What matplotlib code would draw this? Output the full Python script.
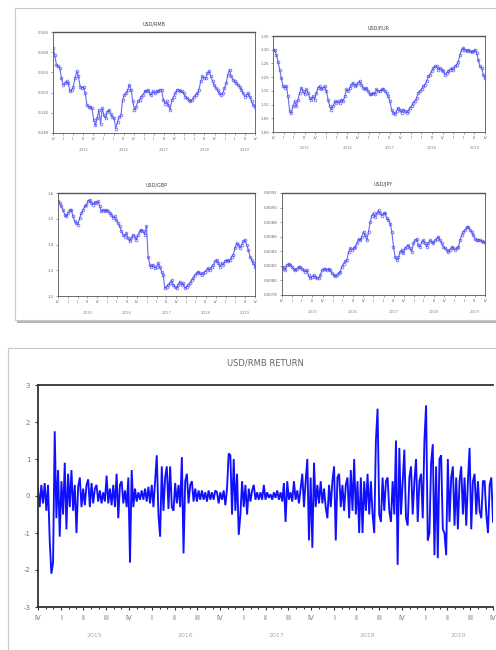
import numpy as np
import pandas as pd
import matplotlib
matplotlib.use('Agg')
import matplotlib.pyplot as plt
import matplotlib.dates as mdates
from matplotlib.patches import Rectangle
from matplotlib.transforms import blended_transform_factory

# ---------------- data ----------------
titles = ['USD/RMB', 'USD/EUR', 'USD/GBP', 'USD/JPY']
big_title = 'USD/RMB RETURN'

rmb = [0.1611, 0.1594, 0.1569, 0.1565, 0.1561, 0.1536, 0.1519, 0.1523, 0.1528, 0.1523,
       0.1503, 0.1507, 0.1515, 0.1536, 0.1553, 0.1540, 0.1515, 0.1511, 0.1515, 0.1498,
       0.1469, 0.1465, 0.1465, 0.1461, 0.1432, 0.1419, 0.1436, 0.1457, 0.1423, 0.1461,
       0.1444, 0.1436, 0.1453, 0.1457, 0.1448, 0.1440, 0.1436, 0.1411, 0.1428, 0.1440,
       0.1444, 0.1482, 0.1494, 0.1498, 0.1507, 0.1519, 0.1507, 0.1478, 0.1457, 0.1465,
       0.1478, 0.1482, 0.1490, 0.1494, 0.1503, 0.1503, 0.1507, 0.1498, 0.1494, 0.1503,
       0.1498, 0.1503, 0.1503, 0.1507, 0.1507, 0.1482, 0.1473, 0.1478, 0.1469, 0.1457,
       0.1482, 0.1490, 0.1498, 0.1507, 0.1507, 0.1503, 0.1503, 0.1498, 0.1490, 0.1486,
       0.1482, 0.1478, 0.1482, 0.1490, 0.1494, 0.1498, 0.1507, 0.1528, 0.1540, 0.1536,
       0.1536, 0.1548, 0.1553, 0.1540, 0.1528, 0.1519, 0.1511, 0.1507, 0.1498, 0.1494,
       0.1498, 0.1511, 0.1523, 0.1544, 0.1557, 0.1540, 0.1532, 0.1528, 0.1523, 0.1519,
       0.1515, 0.1507, 0.1498, 0.1490, 0.1494, 0.1498, 0.1490, 0.1478, 0.1469, 0.1465]

eur = [1.300, 1.300, 1.281, 1.257, 1.227, 1.197, 1.167, 1.161, 1.167, 1.130,
       1.076, 1.070, 1.094, 1.112, 1.094, 1.118, 1.143, 1.161, 1.149, 1.137,
       1.155, 1.143, 1.124, 1.118, 1.130, 1.118, 1.143, 1.161, 1.167, 1.155,
       1.161, 1.167, 1.149, 1.118, 1.094, 1.082, 1.094, 1.112, 1.106, 1.112,
       1.106, 1.118, 1.112, 1.130, 1.155, 1.149, 1.161, 1.173, 1.179, 1.167,
       1.173, 1.179, 1.185, 1.173, 1.161, 1.155, 1.161, 1.149, 1.137, 1.137,
       1.143, 1.137, 1.155, 1.149, 1.149, 1.155, 1.155, 1.149, 1.143, 1.130,
       1.112, 1.082, 1.070, 1.064, 1.076, 1.088, 1.082, 1.070, 1.082, 1.076,
       1.070, 1.076, 1.088, 1.094, 1.106, 1.112, 1.124, 1.143, 1.149, 1.155,
       1.167, 1.173, 1.185, 1.203, 1.209, 1.221, 1.233, 1.239, 1.239, 1.227,
       1.233, 1.227, 1.221, 1.209, 1.215, 1.221, 1.227, 1.233, 1.227, 1.239,
       1.245, 1.257, 1.281, 1.300, 1.306, 1.300, 1.294, 1.300, 1.294, 1.290,
       1.294, 1.300, 1.288, 1.263, 1.239, 1.233, 1.209, 1.197]

gbp = [1.568, 1.561, 1.548, 1.535, 1.516, 1.509, 1.522, 1.535, 1.535, 1.509,
       1.490, 1.483, 1.477, 1.503, 1.522, 1.535, 1.548, 1.555, 1.568, 1.574,
       1.561, 1.555, 1.564, 1.561, 1.568, 1.548, 1.529, 1.535, 1.529, 1.535,
       1.529, 1.522, 1.516, 1.503, 1.509, 1.496, 1.483, 1.470, 1.451, 1.438,
       1.431, 1.444, 1.425, 1.412, 1.425, 1.438, 1.431, 1.418, 1.438, 1.451,
       1.457, 1.451, 1.438, 1.470, 1.353, 1.321, 1.314, 1.321, 1.308, 1.314,
       1.327, 1.314, 1.295, 1.282, 1.230, 1.236, 1.243, 1.249, 1.262, 1.243,
       1.236, 1.230, 1.243, 1.256, 1.243, 1.249, 1.230, 1.236, 1.243, 1.249,
       1.262, 1.269, 1.282, 1.288, 1.295, 1.288, 1.282, 1.288, 1.295, 1.301,
       1.308, 1.301, 1.314, 1.321, 1.334, 1.340, 1.327, 1.314, 1.327, 1.321,
       1.334, 1.340, 1.334, 1.340, 1.353, 1.360, 1.386, 1.405, 1.399, 1.386,
       1.399, 1.412, 1.418, 1.399, 1.379, 1.353, 1.340, 1.327, 1.314]

jpy = [0.00816, 0.00819, 0.00814, 0.00821, 0.00823, 0.00821, 0.00819, 0.00816, 0.00814, 0.00816,
       0.00819, 0.00818, 0.00816, 0.00814, 0.00812, 0.00814, 0.00807, 0.00803, 0.00805, 0.00807,
       0.00805, 0.00803, 0.00803, 0.00807, 0.00814, 0.00816, 0.00816, 0.00814, 0.00816, 0.00814,
       0.00810, 0.00807, 0.00806, 0.00807, 0.00810, 0.00812, 0.00819, 0.00823, 0.00826, 0.00828,
       0.00839, 0.00844, 0.00842, 0.00844, 0.00846, 0.00851, 0.00857, 0.00855, 0.00860, 0.00867,
       0.00862, 0.00855, 0.00867, 0.00880, 0.00889, 0.00892, 0.00887, 0.00892, 0.00896, 0.00892,
       0.00889, 0.00892, 0.00892, 0.00885, 0.00883, 0.00878, 0.00867, 0.00846, 0.00832, 0.00828,
       0.00832, 0.00839, 0.00842, 0.00837, 0.00844, 0.00846, 0.00848, 0.00844, 0.00839, 0.00851,
       0.00855, 0.00857, 0.00848, 0.00846, 0.00853, 0.00855, 0.00851, 0.00846, 0.00851, 0.00855,
       0.00853, 0.00851, 0.00855, 0.00857, 0.00860, 0.00855, 0.00851, 0.00846, 0.00844, 0.00842,
       0.00839, 0.00842, 0.00846, 0.00844, 0.00842, 0.00844, 0.00846, 0.00855, 0.00862, 0.00867,
       0.00869, 0.00873, 0.00873, 0.00869, 0.00867, 0.00862, 0.00857, 0.00855, 0.00856, 0.00855,
       0.00854, 0.00853, 0.00853]

ret = [0.2, -0.3, 0.3, -0.2, 0.35, -0.4, 0.3, -1.2, -2.1, -1.8, 1.75, -0.6, 0.7, -1.1, 0.4, -0.5, 0.9, -0.9, 0.6, -0.3,
       0.7, -0.4, 0.3, -1.0, 0.25, 0.5, -0.3, 0.2, -0.25, 0.3, 0.45, -0.3, 0.35, -0.2, 0.2, 0.3, -0.15, 0.15, -0.2, 0.1,
       -0.15, 0.55, -0.2, 0.2, -0.25, 0.3, -0.3, 0.6, -0.6, 0.3, 0.4, -0.2, 0.15, -0.3, 0.5, -1.8, 0.7, -0.3, 0.2, -0.15,
       0.1, -0.1, 0.15, -0.1, 0.2, -0.15, 0.25, -0.2, 0.3, -0.3, 0.4, 1.1, -0.5, -1.1, 0.8, -0.4, 0.5, 0.8, -0.35, 0.8,
       -0.3, -0.4, 0.35, -0.2, 0.3, -0.3, 1.05, -1.55, 0.4, 0.6, -0.2, 0.3, 0.4, -0.15, 0.2, -0.15, 0.15, -0.1, 0.15, -0.1,
       0.1, -0.15, 0.15, -0.1, 0.1, -0.1, 0.15, 0.1, -0.2, 0.1, -0.1, 0.15, -0.25, 0.2, 1.15, 1.1, -0.5, 1.0, -0.4, 0.6,
       -1.05, -0.5, 0.4, -0.3, 0.3, -0.5, 0.2, -0.15, 0.15, 0.3, -0.1, 0.1, -0.1, 0.1, -0.1, 0.3, -0.1, 0.1, -0.05, 0.05,
       -0.1, 0.1, -0.05, 0.15, -0.1, 0.1, -0.15, 0.35, -0.7, 0.4, -0.1, 0.1, -0.15, 0.4, -0.1, 0.15, -0.2, 0.2, 0.6, -0.3,
       0.4, 1.0, -1.2, 0.5, -1.4, 0.9, -0.3, 0.3, -0.2, 0.4, -0.2, 0.2, -0.3, -0.6, 0.3, -0.3, 0.4, 0.8, -1.2, 0.5,
       0.6, -0.3, 0.3, -0.4, 0.3, 0.5, -0.6, 0.7, -0.4, 1.0, -0.5, 0.4, -1.0, 0.5, -1.0, 0.4, -0.4, 0.6, -0.5, 0.4,
       -0.5, -1.0, 1.5, 2.36, -0.5, -0.7, 0.5, -0.4, 0.4, 0.5, -0.4, -0.7, 0.4, -0.5, 1.5, -1.86, 1.3, -0.5, 0.4, 1.25,
       -0.6, -0.8, 0.5, 0.8, -0.5, 0.4, 1.0, -0.7, 0.4, 0.6, -0.6, 1.5, 2.45, -1.2, -1.0, 0.9, 1.4, -1.6, 0.8, -1.68,
       1.0, 1.1, -0.9, -1.0, -1.6, 1.0, -0.7, 0.5, 0.8, -0.8, 0.5, -0.9, 0.4, 0.8, -0.5, 0.5, -0.8, 0.4, 1.3, -0.9,
       0.4, 0.6, -0.5, 0.4, -0.4, -0.6, 0.4, 0.4, -0.5, -1.0, 0.3, 0.5, -0.7]

rmb_ticks = [0.140, 0.145, 0.150, 0.155, 0.160, 0.165]
eur_ticks = [1.00, 1.05, 1.10, 1.15, 1.20, 1.25, 1.30, 1.35]
gbp_ticks = [1.2, 1.3, 1.4, 1.5, 1.6]
jpy_ticks = [0.0078, 0.0080, 0.0082, 0.0084, 0.0086, 0.0088, 0.0090, 0.0092]
tick_fmt = ['{:.3f}', '{:.2f}', '{:.1f}', '{:.4f}']
ret_ticks = [-3, -2, -1, 0, 1, 2, 3]
roman = ['I', 'II', 'III', 'IV']
years = [2015, 2016, 2017, 2018, 2019]
START, END = '2014-10-01', '2019-10-01'

# ---------------- figure ----------------
W, H = 496, 650
fig = plt.figure(figsize=(W / 100, H / 100), dpi=100)
fig.patch.set_facecolor('white')


def fr(x0, y0, x1, y1):
    return [x0 / W, 1 - y1 / H, (x1 - x0) / W, (y1 - y0) / H]


def frame(x0, y0, x1, y1):
    l, b, w, h = fr(x0, y0, x1, y1)
    fig.patches.append(Rectangle((l + 2 / W, b - 3 / H), w, h, transform=fig.transFigure,
                                 facecolor='#b5b5b5', edgecolor='none', zorder=-3))
    fig.patches.append(Rectangle((l, b), w, h, transform=fig.transFigure,
                                 facecolor='white', edgecolor='#c8c8c8', lw=0.8, zorder=-2))


frame(15, 8, 500, 320)
frame(8, 348, 500, 652)

q_ticks = pd.date_range(START, END, freq='QS')
q_labels = [roman[(d.month - 1) // 3] for d in q_ticks]
m_ticks = pd.date_range(START, END, freq='MS')


def small_axes(rect, vals, ticks, fmt, title):
    ax = fig.add_axes(fr(*rect))
    ax.set_zorder(1)
    x = pd.date_range(START, END, periods=len(vals))
    ax.plot(x, vals, color='#4545f0', lw=0.8, marker='o', ms=2.0, mfc='none',
            mew=0.55, alpha=0.8)
    ax.set_xlim(pd.Timestamp(START), pd.Timestamp(END))
    ax.set_ylim(ticks[0], ticks[-1])
    ax.set_yticks(ticks)
    ax.set_yticklabels([fmt.format(t) for t in ticks])
    ax.set_xticks(q_ticks)
    ax.set_xticklabels(q_labels)
    ax.tick_params(labelsize=2.8, labelcolor='#666666', length=1.5, width=0.4,
                   color='#555555', pad=1.5)
    for s in ax.spines.values():
        s.set_color('#555555')
        s.set_linewidth(0.6)
    ax.spines['top'].set_linewidth(1.0)
    ax.set_title(title, fontsize=3.5, color='#444444', pad=5)
    tr = blended_transform_factory(ax.transData, ax.transAxes)
    for y in years:
        ax.text(pd.Timestamp(f'{y}-07-01'), -0.15, str(y), transform=tr, ha='center',
                va='top', fontsize=2.8, color='#888888')
    return ax


small_axes((53, 32, 255, 133), rmb, rmb_ticks, tick_fmt[0], titles[0])
small_axes((273, 36, 485, 132), eur, eur_ticks, tick_fmt[1], titles[1])
small_axes((58, 193, 255, 296), gbp, gbp_ticks, tick_fmt[2], titles[2])
small_axes((282, 193, 485, 295), jpy, jpy_ticks, tick_fmt[3], titles[3])

# ---------------- big return chart ----------------
ax = fig.add_axes(fr(38, 385, 493, 607))
ax.set_zorder(1)
x = pd.date_range(START, END, periods=len(ret))
ax.plot(x, ret, color='#1010ff', lw=1.35, solid_joinstyle='miter')
ax.set_xlim(pd.Timestamp(START), pd.Timestamp(END))
ax.set_ylim(-3, 3)
ax.set_yticks(ret_ticks)
ax.set_yticklabels([str(t) for t in ret_ticks])
ax.set_xticks(q_ticks)
ax.set_xticklabels(q_labels)
ax.set_xticks(m_ticks, minor=True)
ax.tick_params(axis='both', labelsize=5, labelcolor='#777777', color='#333333',
               length=2.5, width=0.8, pad=3)
ax.tick_params(axis='x', which='minor', length=1.5, width=0.8, color='#333333')
for k, s in ax.spines.items():
    s.set_color('#333333')
    s.set_linewidth(1.3)
ax.spines['right'].set_visible(False)
ax.set_title(big_title, fontsize=6, color='#666666', pad=14)
tr = blended_transform_factory(ax.transData, ax.transAxes)
for y in years:
    ax.text(pd.Timestamp(f'{y}-05-15'), -0.115, str(y), transform=tr, ha='center',
            va='top', fontsize=4.5, color='#aaaaaa')

fig.savefig('out.png', dpi=100)
